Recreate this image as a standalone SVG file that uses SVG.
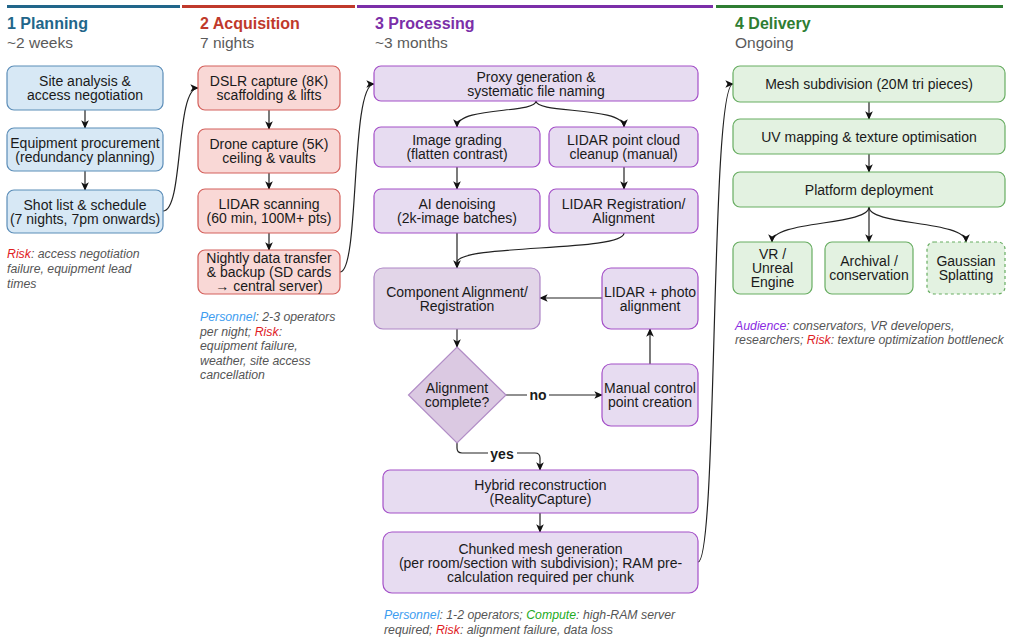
<svg xmlns="http://www.w3.org/2000/svg" width="1011" height="640" viewBox="0 0 1011 640">
<style>
text{font-family:"Liberation Sans",Arial,Helvetica,sans-serif}
.t{font-size:14px;fill:#1a1a1a;text-anchor:middle}
.h{font-size:16px;font-weight:bold}
.s{font-size:15.5px;fill:#5a5a5a}
.n{font-size:12.3px;font-style:italic;fill:#555}
.blue rect{fill:#d7e8f5;stroke:#5b8db8;stroke-width:1.2}
.red rect{fill:#f9d8d6;stroke:#d4615c;stroke-width:1.2}
.pur rect{fill:#e7dcf1;stroke:#a450c8;stroke-width:1.2}
.pur2 rect{fill:#e2d5e8;stroke:#ad85c6;stroke-width:1.2}
.grn rect{fill:#e3f2e1;stroke:#68ad62;stroke-width:1.2}
.c path{fill:none;stroke:#222;stroke-width:1.2}
.risk{fill:#e0201f}.pers{fill:#3d9df0}.comp{fill:#22aa22}.aud{fill:#8a2be2}
.lbl{font-size:14px;font-weight:bold;fill:#1a1a1a;text-anchor:middle}
</style>
<defs>
<marker id="ah" viewBox="0 0 10 10" refX="9" refY="5" markerWidth="8.5" markerHeight="8.5" orient="auto" markerUnits="userSpaceOnUse">
<path d="M0,0.5 L10,5 L0,9.5 L2.5,5 z" fill="#111"/>
</marker>
</defs>
<rect width="1011" height="640" fill="#ffffff"/>

<g id="headers">
<rect x="7" y="5" width="173" height="3" fill="#21668a"/>
<rect x="182" y="5" width="173" height="3" fill="#c0392b"/>
<rect x="357" y="5" width="356" height="3" fill="#7b2fa8"/>
<rect x="716" y="5" width="287" height="3" fill="#2e7d32"/>
<text class="h" x="7" y="29" fill="#21668a">1 Planning</text>
<text class="s" x="7" y="48">~2 weeks</text>
<text class="h" x="200" y="29" fill="#c0392b">2 Acquisition</text>
<text class="s" x="200" y="48">7 nights</text>
<text class="h" x="375" y="29" fill="#7b2fa8">3 Processing</text>
<text class="s" x="375" y="48">~3 months</text>
<text class="h" x="735" y="29" fill="#2e7d32">4 Delivery</text>
<text class="s" x="735" y="48">Ongoing</text>
</g>

<g id="connectors" class="c">
<path d="M85,110 V128" marker-end="url(#ah)"/>
<path d="M85,171 V190" marker-end="url(#ah)"/>
<path d="M163,211 C184,211 175,88 198,88" marker-end="url(#ah)"/>
<path d="M269,110 V129" marker-end="url(#ah)"/>
<path d="M269,173 V189" marker-end="url(#ah)"/>
<path d="M269,233 V250" marker-end="url(#ah)"/>
<path d="M340,272 C360,272 350,84 374,84" marker-end="url(#ah)"/>
<path d="M536,101 C536,114 457,106 457,127" marker-end="url(#ah)"/>
<path d="M536,101 C536,114 624,106 624,127" marker-end="url(#ah)"/>
<path d="M457,167 V189" marker-end="url(#ah)"/>
<path d="M624,167 V189" marker-end="url(#ah)"/>
<path d="M457,233 V268" marker-end="url(#ah)"/>
<path d="M624,233 C624,252 460,244 457,262"/>
<path d="M457,329 V347" marker-end="url(#ah)"/>
<path d="M506,395 H602" marker-end="url(#ah)"/>
<path d="M650,364 V329" marker-end="url(#ah)"/>
<path d="M602,298 H540" marker-end="url(#ah)"/>
<path d="M457,443 V448 Q457,453 462,453 H535 Q540,453 540,458 V470" marker-end="url(#ah)"/>
<path d="M540,513 V532" marker-end="url(#ah)"/>
<path d="M698,562 C718,562 710,84 733,84" marker-end="url(#ah)"/>
<path d="M869,102 V119" marker-end="url(#ah)"/>
<path d="M869,154 V172" marker-end="url(#ah)"/>
<path d="M869,207 C869,226 772,220 772,242" marker-end="url(#ah)"/>
<path d="M869,207 V242" marker-end="url(#ah)"/>
<path d="M869,207 C869,226 966,220 966,242" marker-end="url(#ah)"/>
<rect x="527" y="386" width="22" height="18" fill="#fff"/>
<text class="lbl" x="538" y="400">no</text>
<rect x="488" y="445" width="29" height="17" fill="#fff"/>
<text class="lbl" x="502" y="459">yes</text>
</g>

<g id="n-site" class="blue"><rect x="7" y="66" width="156" height="44" rx="7"/><text class="t" x="85" y="86">Site analysis &amp;</text><text class="t" x="85" y="100">access negotiation</text></g>
<g id="n-equip" class="blue"><rect x="7" y="128" width="156" height="43" rx="7"/><text class="t" x="85" y="147.5">Equipment procurement</text><text class="t" x="85" y="161.5">(redundancy planning)</text></g>
<g id="n-shot" class="blue"><rect x="7" y="190" width="156" height="43" rx="7"/><text class="t" x="85" y="209.5">Shot list &amp; schedule</text><text class="t" x="85" y="223.5">(7 nights, 7pm onwards)</text></g>
<g id="note-planning"><text class="n" x="7" y="258"><tspan class="risk">Risk</tspan>: access negotiation</text><text class="n" x="7" y="273">failure, equipment lead</text><text class="n" x="7" y="288">times</text></g>

<g id="n-dslr" class="red"><rect x="198" y="66" width="142" height="44" rx="7"/><text class="t" x="269" y="86">DSLR capture (8K)</text><text class="t" x="269" y="100">scaffolding &amp; lifts</text></g>
<g id="n-drone" class="red"><rect x="198" y="129" width="142" height="44" rx="7"/><text class="t" x="269" y="149">Drone capture (5K)</text><text class="t" x="269" y="163">ceiling &amp; vaults</text></g>
<g id="n-lidar" class="red"><rect x="198" y="189" width="142" height="44" rx="7"/><text class="t" x="269" y="209">LIDAR scanning</text><text class="t" x="269" y="223">(60 min, 100M+ pts)</text></g>
<g id="n-nightly" class="red"><rect x="198" y="250" width="142" height="44" rx="7"/><text class="t" x="269" y="263">Nightly data transfer</text><text class="t" x="269" y="277">&amp; backup (SD cards</text><text class="t" x="269" y="291">→ central server)</text></g>
<g id="note-acq"><text class="n" x="200" y="321"><tspan class="pers">Personnel</tspan>: 2-3 operators</text><text class="n" x="200" y="335.5">per night; <tspan class="risk">Risk</tspan>:</text><text class="n" x="200" y="350">equipment failure,</text><text class="n" x="200" y="364.5">weather, site access</text><text class="n" x="200" y="379">cancellation</text></g>

<g id="n-proxy" class="pur"><rect x="374" y="66" width="324" height="35" rx="7"/><text class="t" x="536" y="81.5">Proxy generation &amp;</text><text class="t" x="536" y="95.5">systematic file naming</text></g>
<g id="n-grading" class="pur"><rect x="374" y="127" width="166" height="40" rx="7"/><text class="t" x="457" y="145">Image grading</text><text class="t" x="457" y="159">(flatten contrast)</text></g>
<g id="n-cleanup" class="pur"><rect x="549" y="127" width="149" height="40" rx="7"/><text class="t" x="623.5" y="145">LIDAR point cloud</text><text class="t" x="623.5" y="159">cleanup (manual)</text></g>
<g id="n-denoise" class="pur"><rect x="374" y="189" width="166" height="44" rx="7"/><text class="t" x="457" y="209">AI denoising</text><text class="t" x="457" y="223">(2k-image batches)</text></g>
<g id="n-lidarreg" class="pur"><rect x="549" y="189" width="149" height="44" rx="7"/><text class="t" x="623.5" y="209">LIDAR Registration/</text><text class="t" x="623.5" y="223">Alignment</text></g>
<g id="n-component" class="pur2"><rect x="374" y="268" width="166" height="61" rx="9"/><text class="t" x="457" y="296.5">Component Alignment/</text><text class="t" x="457" y="310.5">Registration</text></g>
<g id="n-lidarphoto" class="pur"><rect x="602" y="268" width="96" height="61" rx="9"/><text class="t" x="650" y="296.5">LIDAR + photo</text><text class="t" x="650" y="310.5">alignment</text></g>
<g id="n-decision"><path d="M457,347 L506,395 L457,443 L408.5,395 Z" fill="#dbc9e2" stroke="#b18cc6" stroke-width="1.2"/><text class="t" x="457" y="393">Alignment</text><text class="t" x="457" y="407">complete?</text></g>
<g id="n-manual" class="pur"><rect x="602" y="364" width="96" height="62" rx="9"/><text class="t" x="650" y="393">Manual control</text><text class="t" x="650" y="407">point creation</text></g>
<g id="n-hybrid" class="pur"><rect x="383" y="470" width="315" height="43" rx="7"/><text class="t" x="540.5" y="489.5">Hybrid reconstruction</text><text class="t" x="540.5" y="503.5">(RealityCapture)</text></g>
<g id="n-chunked" class="pur"><rect x="383" y="532" width="315" height="61" rx="9"/><text class="t" x="540.5" y="553.5">Chunked mesh generation</text><text class="t" x="540.5" y="567.5">(per room/section with subdivision); RAM pre-</text><text class="t" x="540.5" y="581.5">calculation required per chunk</text></g>
<g id="note-proc"><text class="n" x="384" y="619"><tspan class="pers">Personnel</tspan>: 1-2 operators; <tspan class="comp">Compute</tspan>: high-RAM server</text><text class="n" x="384" y="634">required; <tspan class="risk">Risk</tspan>: alignment failure, data loss</text></g>

<g id="n-mesh" class="grn"><rect x="733" y="66" width="272" height="36" rx="7"/><text class="t" x="869" y="89">Mesh subdivision (20M tri pieces)</text></g>
<g id="n-uv" class="grn"><rect x="733" y="119" width="272" height="35" rx="7"/><text class="t" x="869" y="141.5">UV mapping &amp; texture optimisation</text></g>
<g id="n-platform" class="grn"><rect x="733" y="172" width="272" height="35" rx="7"/><text class="t" x="869" y="194.5">Platform deployment</text></g>
<g id="n-vr" class="grn"><rect x="733" y="242" width="79" height="52" rx="7"/><text class="t" x="772.5" y="259">VR /</text><text class="t" x="772.5" y="273">Unreal</text><text class="t" x="772.5" y="287">Engine</text></g>
<g id="n-archival" class="grn"><rect x="825" y="242" width="88" height="52" rx="7"/><text class="t" x="869" y="266">Archival /</text><text class="t" x="869" y="280">conservation</text></g>
<g id="n-gaussian" class="grn"><rect x="927" y="242" width="78" height="52" rx="7" stroke-dasharray="3,3"/><text class="t" x="966" y="266">Gaussian</text><text class="t" x="966" y="280">Splatting</text></g>
<g id="note-delivery"><text class="n" x="735" y="330"><tspan class="aud">Audience</tspan>: conservators, VR developers,</text><text class="n" x="735" y="344">researchers; <tspan class="risk">Risk</tspan>: texture optimization bottleneck</text></g>
</svg>
